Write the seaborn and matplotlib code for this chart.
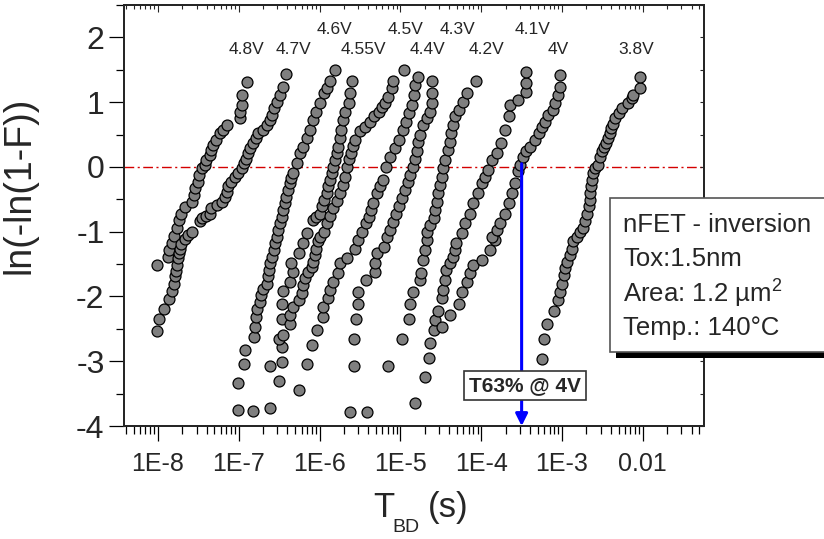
import numpy as np
import pandas as pd
import matplotlib
matplotlib.use('Agg')
import matplotlib.pyplot as plt
import seaborn as sns
from matplotlib.ticker import LogLocator, NullFormatter, FixedLocator, FixedFormatter, MultipleLocator
from matplotlib.patches import Rectangle

sns.set_style('ticks')
plt.rcParams['font.family'] = ['Liberation Sans', 'DejaVu Sans']
plt.rcParams['mathtext.fontset'] = 'custom'
plt.rcParams['mathtext.rm'] = 'Liberation Sans'
plt.rcParams['mathtext.it'] = 'Liberation Sans:italic'
plt.rcParams['axes.unicode_minus'] = False

# (log10 T_BD [s], ln(-ln(1-F))), one chain per stress voltage
v48 = [(-8.01,-1.52),(-7.87,-1.39),(-7.86,-1.28),(-7.83,-1.18),(-7.80,-1.07),(-7.77,-0.94),
       (-7.74,-0.82),(-7.71,-0.72),(-7.67,-0.62),(-7.58,-0.54),(-7.56,-0.43),(-7.54,-0.33),
       (-7.51,-0.23),(-7.49,-0.12),(-7.46,-0.02),(-7.42,0.03),(-7.40,0.11),(-7.36,0.19),
       (-7.34,0.26),(-7.32,0.34),(-7.28,0.42),(-7.23,0.52),(-7.19,0.57),(-7.14,0.65),
       (-6.99,0.75),(-6.99,0.85),(-6.96,0.96),(-6.96,1.11),(-6.90,1.31)]
v47 = [(-8.01,-2.53),(-7.99,-2.35),(-7.93,-2.19),(-7.86,-2.04),(-7.83,-1.92),(-7.80,-1.80),
       (-7.79,-1.69),(-7.78,-1.60),(-7.76,-1.51),(-7.75,-1.41),(-7.74,-1.33),(-7.73,-1.26),
       (-7.71,-1.19),(-7.67,-1.12),(-7.63,-1.05),(-7.58,-1.01),(-7.48,-0.84),(-7.46,-0.79),
       (-7.40,-0.75),(-7.36,-0.72),(-7.34,-0.64),(-7.27,-0.59),(-7.21,-0.54),(-7.17,-0.46),
       (-7.15,-0.38),(-7.13,-0.30),(-7.09,-0.23),(-7.05,-0.15),(-7.01,-0.10),(-6.96,-0.02),
       (-6.94,0.06),(-6.91,0.13),(-6.89,0.21),(-6.86,0.29),(-6.82,0.37),(-6.79,0.44),
       (-6.76,0.52),(-6.70,0.57),(-6.65,0.65),(-6.61,0.73),(-6.59,0.80),(-6.57,0.91),
       (-6.53,1.01),(-6.49,1.11),(-6.45,1.24),(-6.41,1.44)]
v46 = [(-7.01,-3.75),(-7.01,-3.34),(-6.94,-3.04),(-6.92,-2.82),(-6.81,-2.62),(-6.80,-2.47),
       (-6.79,-2.32),(-6.78,-2.20),(-6.74,-2.08),(-6.72,-1.98),(-6.70,-1.89),(-6.65,-1.80),
       (-6.64,-1.69),(-6.62,-1.59),(-6.61,-1.49),(-6.59,-1.39),(-6.57,-1.28),(-6.55,-1.18),
       (-6.53,-1.08),(-6.51,-0.97),(-6.49,-0.87),(-6.47,-0.77),(-6.45,-0.66),(-6.43,-0.56),
       (-6.41,-0.46),(-6.39,-0.36),(-6.37,-0.25),(-6.35,-0.17),(-6.33,-0.10),(-6.28,0.06),
       (-6.24,0.21),(-6.20,0.31),(-6.16,0.44),(-6.12,0.57),(-6.08,0.73),(-6.04,0.85),
       (-6.00,0.98),(-5.95,1.14),(-5.91,1.22),(-5.87,1.32),(-5.81,1.50)]
v455 = [(-6.82,-3.77),(-6.61,-3.72),(-6.50,-3.30),(-6.61,-3.07),(-6.47,-3.01),(-6.47,-2.78),
        (-6.50,-2.65),(-6.45,-2.60),(-6.47,-2.34),(-6.47,-2.12),(-6.45,-1.92),(-6.36,-1.77),
        (-6.33,-1.62),(-6.35,-1.49),(-6.26,-1.33),(-6.20,-1.18),(-6.16,-1.02),(-6.08,-0.82),
        (-6.04,-0.77),(-6.00,-0.72),(-5.97,-0.61),(-5.95,-0.51),(-5.91,-0.41),(-5.89,-0.30),
        (-5.87,-0.20),(-5.85,-0.10),(-5.83,0.00),(-5.81,0.11),(-5.79,0.21),(-5.77,0.31),
        (-5.75,0.44),(-5.73,0.57),(-5.71,0.73),(-5.69,0.85),(-5.64,0.98),(-5.62,1.14),
        (-5.60,1.32)]
v45 = [(-6.36,-2.43),(-6.36,-2.29),(-6.33,-2.16),(-6.26,-2.05),(-6.22,-1.95),(-6.20,-1.82),
       (-6.18,-1.72),(-6.14,-1.62),(-6.10,-1.54),(-6.08,-1.46),(-6.06,-1.36),(-6.04,-1.26),
       (-6.02,-1.15),(-6.00,-1.08),(-5.95,-1.00),(-5.91,-0.87),(-5.87,-0.75),(-5.83,-0.64),
       (-5.79,-0.52),(-5.75,-0.41),(-5.71,-0.28),(-5.69,-0.15),(-5.66,0.00),(-5.64,0.12),
       (-5.61,0.22),(-5.59,0.32),(-5.56,0.42),(-5.50,0.55),(-5.44,0.62),(-5.38,0.70),
       (-5.33,0.78),(-5.27,0.85),(-5.23,0.92),(-5.19,0.98),(-5.15,1.08),(-5.11,1.22),
       (-5.09,1.32),(-4.96,1.50)]
v44 = [(-6.25,-3.44),(-6.15,-3.04),(-6.09,-2.75),(-6.03,-2.51),(-5.96,-2.32),(-5.96,-2.16),
       (-5.89,-2.03),(-5.87,-1.90),(-5.83,-1.77),(-5.77,-1.64),(-5.75,-1.49),(-5.66,-1.41),
       (-5.56,-1.26),(-5.52,-1.13),(-5.48,-1.00),(-5.42,-0.87),(-5.39,-0.77),(-5.36,-0.66),
       (-5.34,-0.56),(-5.29,-0.41),(-5.25,-0.30),(-5.21,-0.20),(-5.18,0.00),(-5.13,0.15),
       (-5.07,0.30),(-5.02,0.42),(-4.97,0.57),(-4.93,0.70),(-4.89,0.83),(-4.86,0.96),
       (-4.83,1.11),(-4.82,1.27),(-4.78,1.39)]
v43 = [(-5.62,-3.78),(-5.41,-3.78),(-5.58,-3.07),(-5.15,-3.07),(-5.58,-2.65),(-5.55,-2.35),
       (-5.52,-2.12),(-5.52,-1.93),(-5.43,-1.75),(-5.32,-1.62),(-5.32,-1.49),(-5.29,-1.33),
       (-5.20,-1.23),(-5.17,-1.08),(-5.13,-0.97),(-5.09,-0.85),(-5.05,-0.72),(-5.02,-0.60),
       (-4.98,-0.48),(-4.94,-0.36),(-4.91,-0.24),(-4.88,-0.12),(-4.84,0.00),(-4.82,0.12),
       (-4.79,0.25),(-4.78,0.38),(-4.76,0.50),(-4.72,0.65),(-4.67,0.75),(-4.63,0.85),
       (-4.61,0.98),(-4.61,1.14),(-4.61,1.32)]
v42 = [(-4.82,-3.65),(-4.98,-2.65),(-4.89,-2.35),(-4.88,-2.11),(-4.84,-1.93),(-4.76,-1.75),
       (-4.74,-1.64),(-4.72,-1.44),(-4.70,-1.28),(-4.67,-1.13),(-4.67,-1.00),(-4.63,-0.90),
       (-4.59,-0.79),(-4.57,-0.66),(-4.55,-0.54),(-4.53,-0.41),(-4.51,-0.28),(-4.49,-0.15),
       (-4.47,-0.02),(-4.45,0.11),(-4.41,0.26),(-4.39,0.39),(-4.37,0.52),(-4.35,0.65),
       (-4.33,0.78),(-4.28,0.88),(-4.22,1.01),(-4.18,1.14),(-4.06,1.32)]
v41 = [(-4.70,-3.24),(-4.65,-2.95),(-4.63,-2.72),(-4.59,-2.52),(-4.57,-2.36),(-4.53,-2.23),
       (-4.49,-2.03),(-4.47,-1.90),(-4.45,-1.75),(-4.43,-1.59),(-4.39,-1.49),(-4.35,-1.39),
       (-4.33,-1.28),(-4.31,-1.18),(-4.24,-1.02),(-4.20,-0.87),(-4.14,-0.72),(-4.10,-0.56),
       (-4.04,-0.41),(-3.99,-0.25),(-3.95,-0.15),(-3.91,-0.05),(-3.87,0.11),(-3.81,0.21),
       (-3.75,0.37),(-3.71,0.57),(-3.66,0.78),(-3.64,0.96),(-3.54,1.03),(-3.44,1.16),
       (-3.44,1.29),(-3.44,1.47)]
v40 = [(-4.48,-2.47),(-4.39,-2.29),(-4.27,-2.11),(-4.24,-1.93),(-4.18,-1.77),(-4.14,-1.64),
       (-4.10,-1.51),(-3.99,-1.44),(-3.89,-1.28),(-3.83,-1.13),(-3.87,-1.08),(-3.81,-0.97),
       (-3.77,-0.87),(-3.71,-0.72),(-3.66,-0.56),(-3.62,-0.41),(-3.58,-0.25),(-3.54,-0.07),
       (-3.52,0.03),(-3.48,0.16),(-3.44,0.24),(-3.40,0.31),(-3.33,0.42),(-3.29,0.52),
       (-3.25,0.62),(-3.21,0.70),(-3.17,0.80),(-3.11,0.88),(-3.09,0.98),(-3.05,1.11),
       (-3.02,1.24),(-3.02,1.42)]
v38 = [(-3.25,-2.96),(-3.22,-2.65),(-3.19,-2.42),(-3.10,-2.23),(-3.05,-2.05),(-3.02,-1.93),
       (-3.00,-1.80),(-2.98,-1.67),(-2.96,-1.56),(-2.94,-1.46),(-2.90,-1.36),(-2.88,-1.26),
       (-2.86,-1.15),(-2.82,-1.08),(-2.78,-1.00),(-2.74,-0.95),(-2.72,-0.84),(-2.69,-0.72),
       (-2.67,-0.61),(-2.66,-0.51),(-2.65,-0.41),(-2.64,-0.30),(-2.63,-0.20),(-2.62,-0.10),
       (-2.59,-0.02),(-2.55,0.03),(-2.53,0.16),(-2.51,0.24),(-2.48,0.31),(-2.45,0.37),
       (-2.43,0.44),(-2.41,0.52),(-2.39,0.60),(-2.37,0.67),(-2.34,0.75),(-2.30,0.83),
       (-2.26,0.91),(-2.18,0.98),(-2.14,1.06),(-2.12,1.11),(-2.03,1.22),(-2.03,1.39)]

chains = {'4.8V': v48, '4.7V': v47, '4.6V': v46, '4.55V': v455, '4.5V': v45, '4.4V': v44,
          '4.3V': v43, '4.2V': v42, '4.1V': v41, '4V': v40, '3.8V': v38}

# voltage labels: (log10 x, y)
label_names = ['4.8V', '4.7V', '4.6V', '4.55V', '4.5V', '4.4V', '4.3V', '4.2V', '4.1V', '4V', '3.8V']
label_logx = [-6.91, -6.32, -5.81, -5.46, -4.94, -4.67, -4.29, -3.93, -3.37, -3.05, -2.08]
label_y = [1.82, 1.82, 2.12, 1.82, 2.12, 1.82, 2.12, 1.82, 2.12, 1.82, 1.82]

t63_4v = 10 ** -3.50
xtick_vals = [1e-8, 1e-7, 1e-6, 1e-5, 1e-4, 1e-3, 1e-2]
xtick_text = ['1E-8', '1E-7', '1E-6', '1E-5', '1E-4', '1E-3', '0.01']
info_lines = ['nFET - inversion', 'Tox:1.5nm', 'Area: 1.2 µm$^2$', 'Temp.: 140°C']

rows = []
for v, pts in chains.items():
    for lt, w in pts:
        rows.append({'voltage': v, 't': 10 ** lt, 'w': w})
df = pd.DataFrame(rows)

fig = plt.figure(figsize=(8.24, 5.39), dpi=100)
ax = fig.add_axes([0.1505, 0.2096, 0.7039, 0.7811])

sns.scatterplot(data=df, x='t', y='w', color='#7f7f7f', edgecolor='black',
                linewidth=0.9, s=62, ax=ax, legend=False, zorder=3)

ax.set_xscale('log')
ax.set_xlim(10 ** -8.42, 10 ** -1.243)
ax.set_ylim(-4, 2.5)

ax.axhline(0, color='#d40000', lw=1.0, dashes=[7, 2.5, 1.5, 2.5], zorder=2)

ax.annotate('', xy=(t63_4v, -4), xytext=(t63_4v, 0.05),
            arrowprops=dict(arrowstyle='-|>', color='blue', lw=2.2, mutation_scale=18,
                            shrinkA=0, shrinkB=0), zorder=4)
ax.text(10 ** -3.46, -3.37, 'T63% @ 4V', ha='center', va='center', fontsize=15,
        fontweight='bold', zorder=6,
        bbox=dict(boxstyle='square,pad=0.25', fc='white', ec='#333333', lw=1.2))

for name, lx, ly in zip(label_names, label_logx, label_y):
    ax.text(10 ** lx, ly, name, ha='center', va='center', fontsize=12.5)

# ticks
ax.xaxis.set_major_locator(FixedLocator(xtick_vals))
ax.xaxis.set_major_formatter(FixedFormatter(xtick_text))
ax.xaxis.set_minor_locator(LogLocator(base=10, subs=np.arange(2, 10), numticks=20))
ax.xaxis.set_minor_formatter(NullFormatter())
ax.yaxis.set_major_locator(MultipleLocator(1))
ax.yaxis.set_minor_locator(MultipleLocator(0.5))
ax.tick_params(axis='both', which='major', direction='out', length=11, width=0.9, color='black')
ax.tick_params(axis='both', which='minor', direction='out', length=5.5, width=0.9, color='black')
ax.tick_params(axis='x', labelsize=18, pad=8)
ax.tick_params(axis='y', labelsize=23, pad=3)
for s in ax.spines.values():
    s.set_linewidth(1.1)
    s.set_color('black')

axr = ax.twinx()
axr.set_ylim(ax.get_ylim())
axr.yaxis.set_major_locator(MultipleLocator(1))
axr.yaxis.set_minor_locator(MultipleLocator(0.5))
axr.tick_params(axis='y', which='both', direction='in', length=3, width=0.8, labelright=False)
axt = ax.twiny()
axt.set_xscale('log')
axt.set_xlim(ax.get_xlim())
axt.xaxis.set_major_locator(FixedLocator(xtick_vals))
axt.xaxis.set_minor_locator(LogLocator(base=10, subs=np.arange(2, 10), numticks=20))
axt.tick_params(axis='x', which='major', direction='in', length=5, width=0.8, labeltop=False)
axt.tick_params(axis='x', which='minor', direction='in', length=3, width=0.8, labeltop=False)
for a in (axr, axt):
    for s in a.spines.values():
        s.set_linewidth(1.1)

# x label: T with a small, low subscript BD
ax.set_xlabel('')
ax.text(0.429, -0.155, 'T', transform=ax.transAxes, fontsize=25, ha='left', va='top')
ax.text(0.462, -0.222, 'BD', transform=ax.transAxes, fontsize=14, ha='left', va='top')
ax.text(0.524, -0.155, '(s)', transform=ax.transAxes, fontsize=25, ha='left', va='top')
ax.set_ylabel('ln(-ln(1-F))', fontsize=27)
ax.yaxis.set_label_coords(-0.150, 0.572)

# info box with drop shadow, running off the right edge
fig.add_artist(Rectangle((0.7476, 0.3349), 0.3, 0.287, transform=fig.transFigure,
                         fc='black', ec='none', zorder=10))
fig.add_artist(Rectangle((0.7403, 0.3470), 0.3, 0.286, transform=fig.transFigure,
                         fc='white', ec='#555555', lw=1.2, zorder=11))
for i, line in enumerate(info_lines):
    fig.text(0.756, 0.5826 - i * 0.0635, line, fontsize=18.5, va='center', ha='left', zorder=12)

fig.savefig('out.png', dpi=100)
